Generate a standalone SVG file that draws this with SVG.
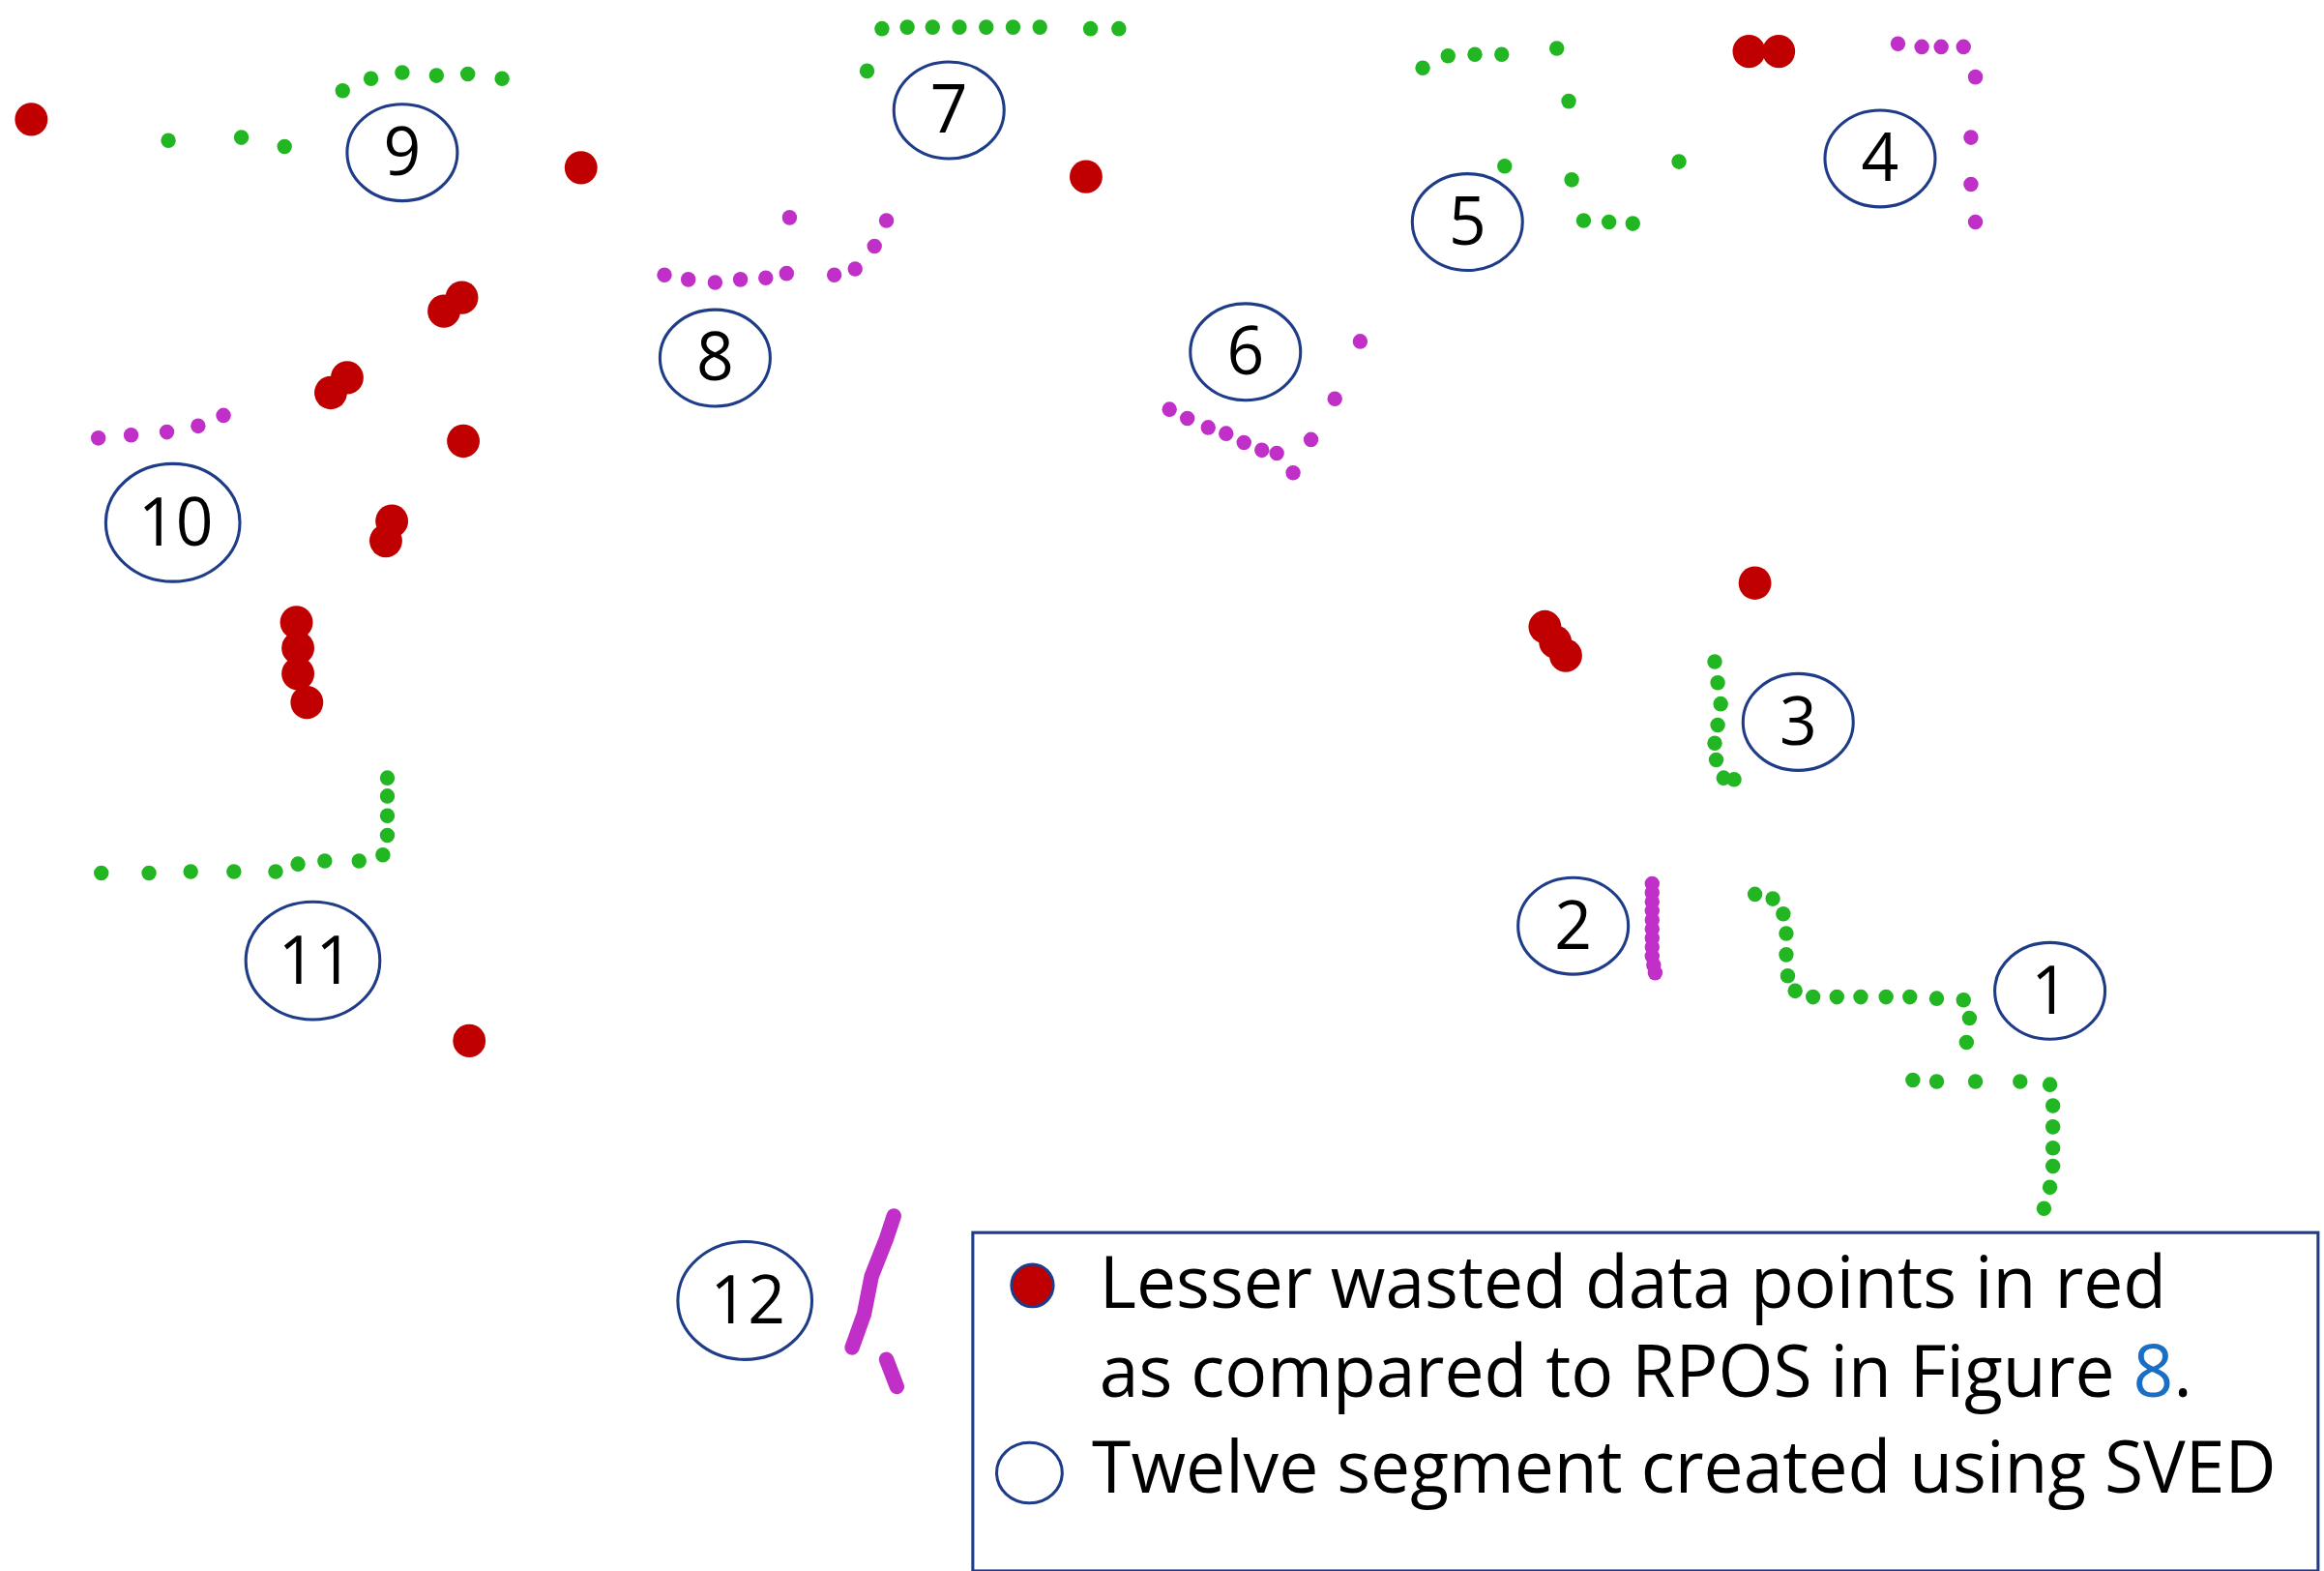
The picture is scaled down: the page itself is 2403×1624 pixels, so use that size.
<svg xmlns="http://www.w3.org/2000/svg" width="2403" height="1624" viewBox="0 0 2403 1624">
<style>
.r{fill:#c00000}
.g{fill:#22b622}
.m{fill:#c030c8}
.lab{fill:#fff;stroke:#1f3c88;stroke-width:2}
.t{font-family:"Open Sans","Liberation Sans",sans-serif;font-size:44px;fill:#000;text-anchor:middle}
.lt{font-family:"Open Sans","Liberation Sans",sans-serif;font-size:47.5px;fill:#000}
</style>
<rect width="2403" height="1624" fill="#fff"/>
<g transform="scale(1.5404,1.5615)">
<g id="red">
<circle class="r" cx="21" cy="79" r="11"/><circle class="r" cx="390" cy="111" r="11"/><circle class="r" cx="729" cy="117" r="11"/><circle class="r" cx="1174" cy="34" r="11"/><circle class="r" cx="1194" cy="34" r="11"/><circle class="r" cx="298" cy="206" r="11"/><circle class="r" cx="310" cy="197" r="11"/><circle class="r" cx="222" cy="260" r="11"/><circle class="r" cx="233" cy="250" r="11"/><circle class="r" cx="311" cy="292" r="11"/><circle class="r" cx="263" cy="345" r="11"/><circle class="r" cx="259" cy="358" r="11"/><circle class="r" cx="199" cy="412" r="11"/><circle class="r" cx="200" cy="429" r="11"/><circle class="r" cx="200" cy="446" r="11"/><circle class="r" cx="206" cy="465" r="11"/><circle class="r" cx="1178" cy="386" r="11"/><circle class="r" cx="1037" cy="415" r="11"/><circle class="r" cx="1044" cy="425" r="11"/><circle class="r" cx="1051" cy="434" r="11"/><circle class="r" cx="315" cy="689" r="11"/>
</g>
<g id="green" class="g">
<circle cx="113" cy="93" r="5"/><circle cx="162" cy="91" r="5"/><circle cx="191" cy="97" r="5"/><circle cx="230" cy="60" r="5"/><circle cx="249" cy="52" r="5"/><circle cx="270" cy="48" r="5"/><circle cx="293" cy="50" r="5"/><circle cx="314" cy="49" r="5"/><circle cx="337" cy="52" r="5"/>
<circle cx="582" cy="47" r="5"/><circle cx="592" cy="19" r="5"/><circle cx="609" cy="18" r="5"/><circle cx="626" cy="18" r="5"/><circle cx="644" cy="18" r="5"/><circle cx="662" cy="18" r="5"/><circle cx="680" cy="18" r="5"/><circle cx="698" cy="18" r="5"/><circle cx="732" cy="19" r="5"/><circle cx="751" cy="19" r="5"/>
<circle cx="955" cy="45" r="5"/><circle cx="972" cy="37" r="5"/><circle cx="990" cy="36" r="5"/><circle cx="1008" cy="36" r="5"/><circle cx="1045" cy="32" r="5"/><circle cx="1053" cy="67" r="5"/><circle cx="1010" cy="110" r="5"/><circle cx="1055" cy="119" r="5"/><circle cx="1063" cy="146" r="5"/><circle cx="1080" cy="147" r="5"/><circle cx="1096" cy="148" r="5"/><circle cx="1127" cy="107" r="5"/>
<circle cx="1151" cy="438" r="5"/><circle cx="1153" cy="452" r="5"/><circle cx="1155" cy="466" r="5"/><circle cx="1153" cy="480" r="5"/><circle cx="1151" cy="492" r="5"/><circle cx="1152" cy="503" r="5"/><circle cx="1157" cy="515" r="5"/><circle cx="1164" cy="516" r="5"/>
<circle cx="1178" cy="592" r="5"/><circle cx="1190" cy="595" r="5"/><circle cx="1197" cy="605" r="5"/><circle cx="1199" cy="618" r="5"/><circle cx="1199" cy="632" r="5"/><circle cx="1200" cy="646" r="5"/><circle cx="1205" cy="656" r="5"/><circle cx="1217" cy="660" r="5"/><circle cx="1233" cy="660" r="5"/><circle cx="1249" cy="660" r="5"/><circle cx="1266" cy="660" r="5"/><circle cx="1282" cy="660" r="5"/><circle cx="1300" cy="661" r="5"/><circle cx="1318" cy="662" r="5"/><circle cx="1322" cy="674" r="5"/><circle cx="1320" cy="690" r="5"/><circle cx="1284" cy="715" r="5"/><circle cx="1300" cy="716" r="5"/><circle cx="1326" cy="716" r="5"/><circle cx="1356" cy="716" r="5"/><circle cx="1376" cy="718" r="5"/><circle cx="1378" cy="732" r="5"/><circle cx="1378" cy="746" r="5"/><circle cx="1378" cy="760" r="5"/><circle cx="1378" cy="772" r="5"/><circle cx="1376" cy="786" r="5"/><circle cx="1372" cy="800" r="5"/>
<circle cx="68" cy="578" r="5"/><circle cx="100" cy="578" r="5"/><circle cx="128" cy="577" r="5"/><circle cx="157" cy="577" r="5"/><circle cx="185" cy="577" r="5"/><circle cx="200" cy="572" r="5"/><circle cx="218" cy="570" r="5"/><circle cx="241" cy="570" r="5"/><circle cx="257" cy="566" r="5"/><circle cx="260" cy="553" r="5"/><circle cx="260" cy="540" r="5"/><circle cx="260" cy="527" r="5"/><circle cx="260" cy="515" r="5"/>
</g>
<g id="magenta" class="m">
<circle cx="1274" cy="29" r="5"/><circle cx="1290" cy="31" r="5"/><circle cx="1303" cy="31" r="5"/><circle cx="1318" cy="31" r="5"/><circle cx="1326" cy="51" r="5"/><circle cx="1323" cy="91" r="5"/><circle cx="1323" cy="122" r="5"/><circle cx="1326" cy="147" r="5"/>
<circle cx="446" cy="182" r="5"/><circle cx="462" cy="185" r="5"/><circle cx="480" cy="187" r="5"/><circle cx="497" cy="185" r="5"/><circle cx="514" cy="184" r="5"/><circle cx="528" cy="181" r="5"/><circle cx="530" cy="144" r="5"/><circle cx="560" cy="182" r="5"/><circle cx="574" cy="178" r="5"/><circle cx="587" cy="163" r="5"/><circle cx="595" cy="146" r="5"/>
<circle cx="785" cy="271" r="5"/><circle cx="797" cy="277" r="5"/><circle cx="811" cy="283" r="5"/><circle cx="823" cy="287" r="5"/><circle cx="835" cy="293" r="5"/><circle cx="847" cy="298" r="5"/><circle cx="857" cy="300" r="5"/><circle cx="868" cy="313" r="5"/><circle cx="880" cy="291" r="5"/><circle cx="896" cy="264" r="5"/><circle cx="913" cy="226" r="5"/>
<circle cx="66" cy="290" r="5"/><circle cx="88" cy="288" r="5"/><circle cx="112" cy="286" r="5"/><circle cx="133" cy="282" r="5"/><circle cx="150" cy="275" r="5"/>
<circle cx="1109" cy="585" r="5"/><circle cx="1109" cy="591" r="5"/><circle cx="1109" cy="597" r="5"/><circle cx="1109" cy="603" r="5"/><circle cx="1109" cy="609" r="5"/><circle cx="1109" cy="615" r="5"/><circle cx="1109" cy="621" r="5"/><circle cx="1109" cy="627" r="5"/><circle cx="1109" cy="633" r="5"/><circle cx="1110" cy="639" r="5"/><circle cx="1111" cy="644" r="5"/>
<path d="M600,805 L595,820 L585,845 L580,870 L572,892 M595,900 L602,918" fill="none" stroke="#c030c8" stroke-width="10" stroke-linecap="round"/>
</g>
<g id="connectors"></g>
<g id="labels">
<g id="n9"><ellipse class="lab" cx="270" cy="101" rx="37" ry="32"/><text class="t" x="270" y="116">9</text></g>
<g id="n7"><ellipse class="lab" cx="637" cy="73" rx="37" ry="32"/><text class="t" x="637" y="88">7</text></g>
<g id="n8"><ellipse class="lab" cx="480" cy="237" rx="37" ry="32"/><text class="t" x="480" y="252">8</text></g>
<g id="n6"><ellipse class="lab" cx="836" cy="233" rx="37" ry="32"/><text class="t" x="836" y="248">6</text></g>
<g id="n5"><ellipse class="lab" cx="985" cy="147" rx="37" ry="32"/><text class="t" x="985" y="162">5</text></g>
<g id="n4"><ellipse class="lab" cx="1262" cy="105" rx="37" ry="32"/><text class="t" x="1262" y="120">4</text></g>
<g id="n10"><ellipse class="lab" cx="116" cy="346" rx="45" ry="39"/><text class="t" x="118" y="361">10</text></g>
<g id="n3"><ellipse class="lab" cx="1207" cy="478" rx="37" ry="32"/><text class="t" x="1207" y="493">3</text></g>
<g id="n2"><ellipse class="lab" cx="1056" cy="613" rx="37" ry="32"/><text class="t" x="1056" y="628">2</text></g>
<g id="n1"><ellipse class="lab" cx="1376" cy="656" rx="37" ry="32"/><text class="t" x="1376" y="671">1</text></g>
<g id="n11"><ellipse class="lab" cx="210" cy="636" rx="45" ry="39"/><text class="t" x="212" y="651">11</text></g>
<g id="n12"><ellipse class="lab" cx="500" cy="861" rx="45" ry="39"/><text class="t" x="502" y="876">12</text></g>
</g>
<g id="legend">
<rect x="653" y="816" width="903" height="224" fill="#fff" stroke="#1f3c88" stroke-width="2"/>
<circle cx="693" cy="851" r="14" fill="#c00000" stroke="#1f3c88" stroke-width="2"/>
<ellipse cx="691" cy="975" rx="22" ry="20" fill="#fff" stroke="#1f3c88" stroke-width="2"/>
<text class="lt" x="738" y="866">Lesser wasted data points in red</text>
<text class="lt" x="738" y="925">as compared to RPOS in Figure <tspan fill="#1a6fc4">8</tspan>.</text>
<text class="lt" x="733" y="988">Twelve segment created using SVED</text>
</g>
</g>
</svg>
